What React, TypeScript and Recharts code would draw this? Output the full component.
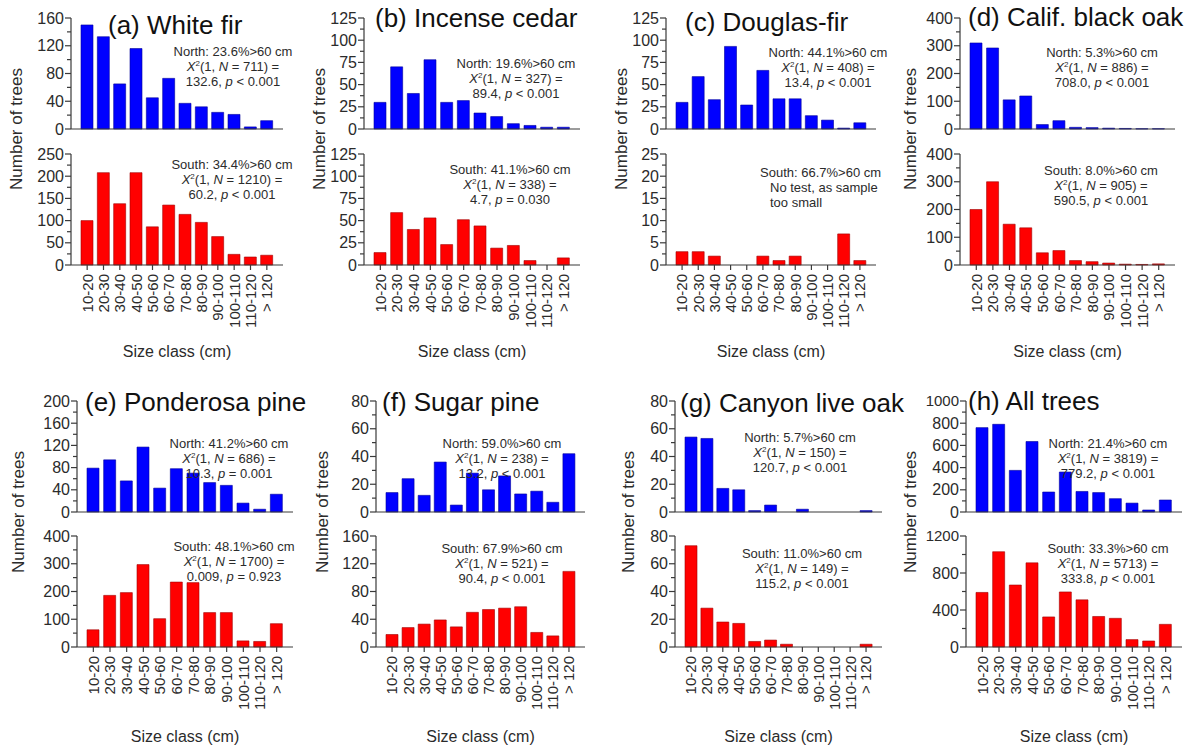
import React from "react";
import { BarChart, Bar, XAxis, YAxis } from "recharts";

// size classes shared by every panel
const sizeClasses = ["10-20", "20-30", "30-40", "40-50", "50-60", "60-70", "70-80", "80-90", "90-100", "100-110", "110-120", "> 120"];

// counts, north (blue) and south (red) aspects
const whiteFirNorth = [150, 133, 65, 116, 45, 73, 37, 32, 24, 21, 3, 12];
const whiteFirSouth = [100, 208, 138, 208, 86, 135, 114, 96, 64, 24, 18, 22];
const cedarNorth = [30, 70, 40, 78, 30, 32, 18, 14, 6, 4, 2, 2];
const cedarSouth = [14, 59, 40, 53, 23, 51, 44, 19, 22, 5, 0, 8];
const douglasNorth = [30, 59, 33, 93, 27, 66, 34, 34, 15, 10, 1, 7];
const douglasSouth = [3, 3, 2, 0, 0, 2, 1, 2, 0, 0, 7, 1];
const blackOakNorth = [310, 292, 105, 119, 16, 30, 6, 5, 3, 2, 1, 1];
const blackOakSouth = [200, 300, 147, 134, 44, 52, 16, 12, 7, 3, 2, 4];
const ponderosaNorth = [79, 94, 56, 117, 43, 78, 70, 53, 48, 16, 5, 32];
const ponderosaSouth = [62, 186, 196, 297, 102, 234, 232, 124, 124, 22, 20, 84];
const sugarNorth = [14, 24, 12, 36, 5, 28, 16, 26, 13, 15, 7, 42];
const sugarSouth = [18, 28, 33, 39, 29, 50, 54, 56, 58, 21, 16, 109];
const liveOakNorth = [54, 53, 17, 16, 1, 5, 0, 2, 0, 0, 0, 1];
const liveOakSouth = [73, 28, 18, 17, 4, 5, 2, 0, 0, 0, 0, 2];
const allNorth = [760, 790, 375, 635, 180, 360, 185, 175, 120, 80, 18, 108];
const allSouth = [590, 1030, 670, 910, 325, 595, 510, 330, 310, 80, 65, 245];

// major y ticks
const ticksA_N = [0, 40, 80, 120, 160];
const ticksA_S = [0, 50, 100, 150, 200, 250];
const ticksB = [0, 25, 50, 75, 100, 125];
const ticksC_S = [0, 5, 10, 15, 20, 25];
const ticksD = [0, 100, 200, 300, 400];
const ticksE_N = [0, 40, 80, 120, 160, 200];
const ticksE_S = [0, 100, 200, 300, 400];
const ticksF_N = [0, 20, 40, 60, 80];
const ticksF_S = [0, 40, 80, 120, 160];
const ticksG = [0, 20, 40, 60, 80];
const ticksH_N = [0, 200, 400, 600, 800, 1000];
const ticksH_S = [0, 400, 800, 1200];

type Note = { pct: string; n?: number; chi?: string; p?: string; text?: string[] };

const panels = [
  { title: "(a) White fir", north: whiteFirNorth, south: whiteFirSouth, tN: ticksA_N, tS: ticksA_S,
    nN: { pct: "23.6", n: 711, chi: "132.6", p: "< 0.001" }, nS: { pct: "34.4", n: 1210, chi: "60.2", p: "< 0.001" } },
  { title: "(b) Incense cedar", north: cedarNorth, south: cedarSouth, tN: ticksB, tS: ticksB,
    nN: { pct: "19.6", n: 327, chi: "89.4", p: "< 0.001" }, nS: { pct: "41.1", n: 338, chi: "4.7", p: "= 0.030" } },
  { title: "(c) Douglas-fir", north: douglasNorth, south: douglasSouth, tN: ticksB, tS: ticksC_S,
    nN: { pct: "44.1", n: 408, chi: "13.4", p: "< 0.001" }, nS: { pct: "66.7", text: ["No test, as sample", "too small"] } },
  { title: "(d) Calif. black oak", north: blackOakNorth, south: blackOakSouth, tN: ticksD, tS: ticksD,
    nN: { pct: "5.3", n: 886, chi: "708.0", p: "< 0.001" }, nS: { pct: "8.0", n: 905, chi: "590.5", p: "< 0.001" } },
  { title: "(e) Ponderosa pine", north: ponderosaNorth, south: ponderosaSouth, tN: ticksE_N, tS: ticksE_S,
    nN: { pct: "41.2", n: 686, chi: "10.3", p: "= 0.001" }, nS: { pct: "48.1", n: 1700, chi: "0.009", p: "= 0.923" } },
  { title: "(f) Sugar pine", north: sugarNorth, south: sugarSouth, tN: ticksF_N, tS: ticksF_S,
    nN: { pct: "59.0", n: 238, chi: "13.2", p: "< 0.001" }, nS: { pct: "67.9", n: 521, chi: "90.4", p: "< 0.001" } },
  { title: "(g) Canyon live oak", north: liveOakNorth, south: liveOakSouth, tN: ticksG, tS: ticksG,
    nN: { pct: "5.7", n: 150, chi: "120.7", p: "< 0.001" }, nS: { pct: "11.0", n: 149, chi: "115.2", p: "< 0.001" } },
  { title: "(h) All trees", north: allNorth, south: allSouth, tN: ticksH_N, tS: ticksH_S,
    nN: { pct: "21.4", n: 3819, chi: "779.2", p: "< 0.001" }, nS: { pct: "33.3", n: 5713, chi: "333.8", p: "< 0.001" } },
];

// pixel layout of each panel
const row1 = { topN: 18, botN: 129, topS: 154, botS: 265, labelY: 129, sizeY: 352 };
const row2 = { topN: 401, botN: 512, topS: 536, botS: 647, labelY: 512, sizeY: 737 };
const layout = [
  { ...row1, ax: 71, end: 283, tx: 108, ty: 27, lx: 17, ncx: 233, ncy: 51, scx: 232, scy: 164 },
  { ...row1, ax: 364, end: 580, tx: 375, ty: 20, lx: 320, ncx: 516, ncy: 63, scx: 510, scy: 169 },
  { ...row1, ax: 666, end: 876, tx: 685, ty: 24, lx: 622, ncx: 828, ncy: 52, scx: 760, scy: 172 },
  { ...row1, ax: 960, end: 1175, tx: 968, ty: 19, lx: 911, ncx: 1102, ncy: 52, scx: 1101, scy: 170 },
  { ...row2, ax: 77, end: 293, tx: 85, ty: 404, lx: 19, ncx: 229, ncy: 443, scx: 234, scy: 546 },
  { ...row2, ax: 376, end: 585, tx: 382, ty: 404, lx: 323, ncx: 502, ncy: 443, scx: 502, scy: 548 },
  { ...row2, ax: 675, end: 882, tx: 680, ty: 405, lx: 629, ncx: 800, ncy: 437, scx: 802, scy: 553 },
  { ...row2, ax: 966, end: 1182, tx: 968, ty: 403, lx: 911, ncx: 1108, ncy: 443, scx: 1108, scy: 548 },
];

const FONT = '"Liberation Sans", Arial, Helvetica, sans-serif';
const AXIS = "#3a3a3a";
const TEXT = "#2b2b2b";
const BLUE = "#0000ff";
const RED = "#ff0000";

function YTick(props: any) {
  const { x, y, payload, majors } = props;
  const v = payload.value;
  const isMajor = majors.includes(v);
  const ax = x + 7;
  const long = String(v).length > 3;
  return (
    <g>
      <line x1={ax - (isMajor ? 6 : 4)} x2={ax} y1={y} y2={y} stroke={AXIS} strokeWidth={1.2} />
      {isMajor && (
        <text x={x} y={y} dy="0.35em" textAnchor="end" fontSize={long ? 15 : 16} fontFamily={FONT} fill={TEXT}>
          {v}
        </text>
      )}
    </g>
  );
}

function XTick(props: any) {
  const { x, y, payload } = props;
  return (
    <text x={x} y={y} dy="0.36em" textAnchor="end" transform={`rotate(-90 ${x} ${y})`} fontSize={15} fontFamily={FONT} fill={TEXT}>
      {payload.value}
    </text>
  );
}

function SubChart({ values, color, stroke, ax, end, top, bottom, majors, showX }: any) {
  const YW = 50;
  const MT = 12;
  const MR = 6;
  const MB = showX ? 0 : 12;
  const XH = showX ? 80 : 1;
  const width = YW + (end - ax) + MR;
  const height = MT + (bottom - top) + XH + MB;
  const ticks: number[] = [];
  majors.forEach((m: number, i: number) => {
    if (i > 0) ticks.push((majors[i - 1] + m) / 2);
    ticks.push(m);
  });
  const rows = sizeClasses.map((s, i) => ({ size: s, count: values[i] }));
  return (
    <div style={{ position: "absolute", left: ax - YW, top: top - MT }}>
      <BarChart width={width} height={height} data={rows} margin={{ top: MT, right: MR, bottom: MB, left: 0 }} barSize={12}>
        <XAxis
          dataKey="size"
          height={XH}
          interval={0}
          padding={{ left: 8, right: 8 }}
          axisLine={{ stroke: AXIS, strokeWidth: 1.2 }}
          tickLine={showX ? { stroke: AXIS, strokeWidth: 1.2 } : false}
          tickSize={5}
          tickMargin={4}
          tick={showX ? (p: any) => <XTick {...p} /> : false}
        />
        <YAxis
          width={YW}
          domain={[0, majors[majors.length - 1]]}
          ticks={ticks}
          interval={0}
          tickLine={false}
          tickSize={6}
          tickMargin={1}
          axisLine={{ stroke: AXIS, strokeWidth: 1.2 }}
          tick={(p: any) => <YTick {...p} majors={majors} />}
        />
        <Bar dataKey="count" fill={color} stroke={stroke} strokeWidth={0.6} isAnimationActive={false} />
      </BarChart>
    </div>
  );
}

function NoteBlock({ note, side, cx, cy, leftAlign }: { note: Note; side: string; cx: number; cy: number; leftAlign?: boolean }) {
  const style: React.CSSProperties = {
    position: "absolute",
    top: cy - 7.5,
    fontSize: 13,
    lineHeight: "15px",
    fontFamily: FONT,
    color: TEXT,
    whiteSpace: "nowrap",
  };
  if (leftAlign) {
    return (
      <div style={{ ...style, left: cx, textAlign: "left" }}>
        <div>{side}: {note.pct}%&gt;60 cm</div>
        {(note.text || []).map((t) => (
          <div key={t} style={{ paddingLeft: 10 }}>{t}</div>
        ))}
      </div>
    );
  }
  return (
    <div style={{ ...style, left: cx - 100, width: 200, textAlign: "center" }}>
      <div>{side}: {note.pct}%&gt;60 cm</div>
      <div>
        <i>X</i>
        <sup style={{ fontSize: 8, lineHeight: 0 }}>2</sup>(1, <i>N</i> = {note.n}) =
      </div>
      <div>
        {note.chi}, <i>p</i> {note.p}
      </div>
    </div>
  );
}

function Panel({ cfg, lay }: any) {
  return (
    <>
      <SubChart values={cfg.north} color={BLUE} stroke="#00009a" ax={lay.ax} end={lay.end} top={lay.topN} bottom={lay.botN} majors={cfg.tN} showX={false} />
      <SubChart values={cfg.south} color={RED} stroke="#a00000" ax={lay.ax} end={lay.end} top={lay.topS} bottom={lay.botS} majors={cfg.tS} showX={true} />
      <div style={{ position: "absolute", left: lay.tx, top: lay.ty - 15, fontSize: 26, lineHeight: "26px", fontFamily: FONT, color: "#111", whiteSpace: "nowrap" }}>
        {cfg.title}
      </div>
      <NoteBlock note={cfg.nN} side="North" cx={lay.ncx} cy={lay.ncy} />
      <NoteBlock note={cfg.nS} side="South" cx={lay.scx} cy={lay.scy} leftAlign={!!cfg.nS.text} />
      <div style={{ position: "absolute", left: lay.lx - 100, top: lay.labelY - 10, width: 200, height: 20, lineHeight: "20px", textAlign: "center", transform: "rotate(-90deg)", fontSize: 17, fontFamily: FONT, color: TEXT, whiteSpace: "nowrap" }}>
        Number of trees
      </div>
      <div style={{ position: "absolute", left: (lay.ax + lay.end) / 2 - 100, top: lay.sizeY - 10, width: 200, lineHeight: "20px", textAlign: "center", fontSize: 16, fontFamily: FONT, color: TEXT }}>
        Size class (cm)
      </div>
    </>
  );
}

export default function App() {
  return (
    <div style={{ position: "absolute", left: 0, top: 0, width: 1195, height: 746, background: "#fff", overflow: "hidden" }}>
      {panels.map((cfg, i) => (
        <Panel key={cfg.title} cfg={cfg} lay={layout[i]} />
      ))}
    </div>
  );
}
